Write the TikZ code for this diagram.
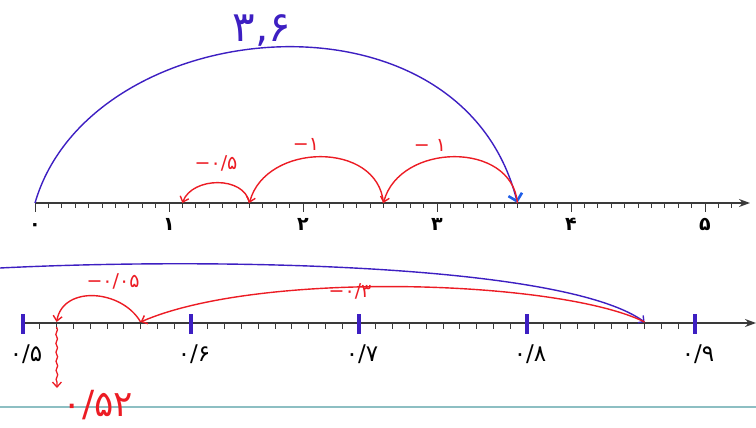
\documentclass[tikz,border=0pt]{standalone}
\usepackage{fontspec}
\newfontfamily\fa{DejaVu Sans}
\usepackage{xcolor}
\usetikzlibrary{arrows.meta,decorations.pathmorphing}
\definecolor{PenBlue}{HTML}{3D1FC2}
\definecolor{MarkBlue}{HTML}{1F5EE8}
\definecolor{PenRed}{HTML}{EC1C24}
\definecolor{AxisGray}{HTML}{3A3A3A}
\definecolor{RuleTeal}{HTML}{8DBFC3}

\begin{document}
\begin{tikzpicture}[x=1pt,y=1pt,
  numline/.style={AxisGray,line width=1.3pt,-{Stealth[length=11pt,width=8pt]}},
  tickmark/.style={AxisGray,line width=.9pt},
  unitbar/.style={PenBlue,line width=4.5pt},
  jumpred/.style={PenRed,line width=1.4pt,-{Straight Barb[length=5pt,width=9pt]}},
  jumpblue/.style={PenBlue,line width=1.4pt},
  numtop/.style={font=\fa\bfseries\fontsize{19}{22}\selectfont,anchor=base,text=black},
  numbot/.style={font=\fa\fontsize{23}{26}\selectfont,anchor=base,text=black},
  redlab/.style={font=\fa\fontsize{19}{22}\selectfont,text=PenRed}]
  \useasboundingbox (0,0) rectangle (756,-428);

  % renglon del cuaderno, detras de todo
  \coordinate (rl) at (0,-407);
  \coordinate (rr) at (756,-407);
  \draw[RuleTeal,line width=1.6pt] (rl) -- (rr);

  % recta de arriba: de 0 a 5
  \coordinate (z0) at (35,-203);
  \coordinate (zend) at (750,-203);
  \draw[numline] (z0) -- (zend);
  \foreach \k in {0,...,52}{
    \pgfmathsetmacro\len{mod(\k,10)==0 ? 9 : 5}
    \draw[tickmark] ({35+\k*13.4},-203) -- ++(0,-\len);
  }
  \foreach \n/\d in {0/۰,1/۱,2/۲,3/۳,4/۴,5/۵}
    \node[numtop] (d\n) at ({35+\n*134},-230) {\d};

  \coordinate (a36) at (517.4,-203);
  \coordinate (a26) at (383.4,-203);
  \coordinate (a16) at (249.4,-203);
  \coordinate (a11) at (182.4,-203);

  \draw[jumpblue,-{Straight Barb[length=7pt,width=14pt,line width=2.6pt,color=MarkBlue]}]
    (z0) .. controls +(55,190) and +(-57,225) .. (a36);
  \node[font=\fa\fontsize{42}{48}\selectfont,text=PenBlue] (s36) at (262,-30) {۳,۶};

  \draw[jumpred] (a36) to[out=95,in=75,looseness=1.2] (a26);
  \draw[jumpred] (a26) to[out=95,in=75,looseness=1.2] (a16);
  \draw[jumpred] (a16) to[out=100,in=70,looseness=1.07] (a11);
  \node[redlab] (m1) at (430,-145) {− ۱};
  \node[redlab] (m2) at (306,-144) {−۱};
  \node[redlab] (m3) at (216,-163) {−۰/۵};

  % recta de abajo: de 0/5 a 0/9
  \coordinate (y0) at (23,-323);
  \coordinate (yend) at (756,-323);
  \draw[numline] (y0) -- (yend);
  \foreach \k in {1,...,39}
    \draw[tickmark] ({23+\k*16.8},-323) -- ++(0,-6);
  \foreach \n/\d in {0/۵,1/۶,2/۷,3/۸,4/۹}{
    \draw[unitbar] ({23+\n*168},-314) -- ++(0,-20);
    \node[numbot] (e\n) at ({26+\n*168},-361) {۰/\d};
  }

  \coordinate (b087) at (644.6,-322);
  \coordinate (b057) at (140.6,-322);
  \coordinate (b052) at (56.6,-322);
  \coordinate (bs) at (0,-268);
  \coordinate (res) at (57,-388);

  \draw[jumpblue,-{Straight Barb[length=4pt,width=9pt]}]
    (bs) .. controls (200,-258) and (560,-262) .. (b087);
  \draw[jumpred] (b087) .. controls (560,-280) and (260,-270) .. (b057);
  \draw[jumpred] (b057) to[out=120,in=80,looseness=1.15] (b052);
  \node[redlab] (m4) at (113,-281) {−۰/۰۵};
  \node[redlab] (m5) at (350,-291) {−۰/۳};

  \draw[PenRed,line width=1.3pt,decorate,
        decoration={snake,amplitude=.8pt,segment length=9pt,post length=5pt},
        -{Straight Barb[length=5pt,width=9pt]}] ([yshift=-5pt]b052) -- (res);
  \node[font=\fa\fontsize{36}{42}\selectfont,text=PenRed] (r52) at (98,-405) {۰/۵۲};
\end{tikzpicture}
\end{document}
